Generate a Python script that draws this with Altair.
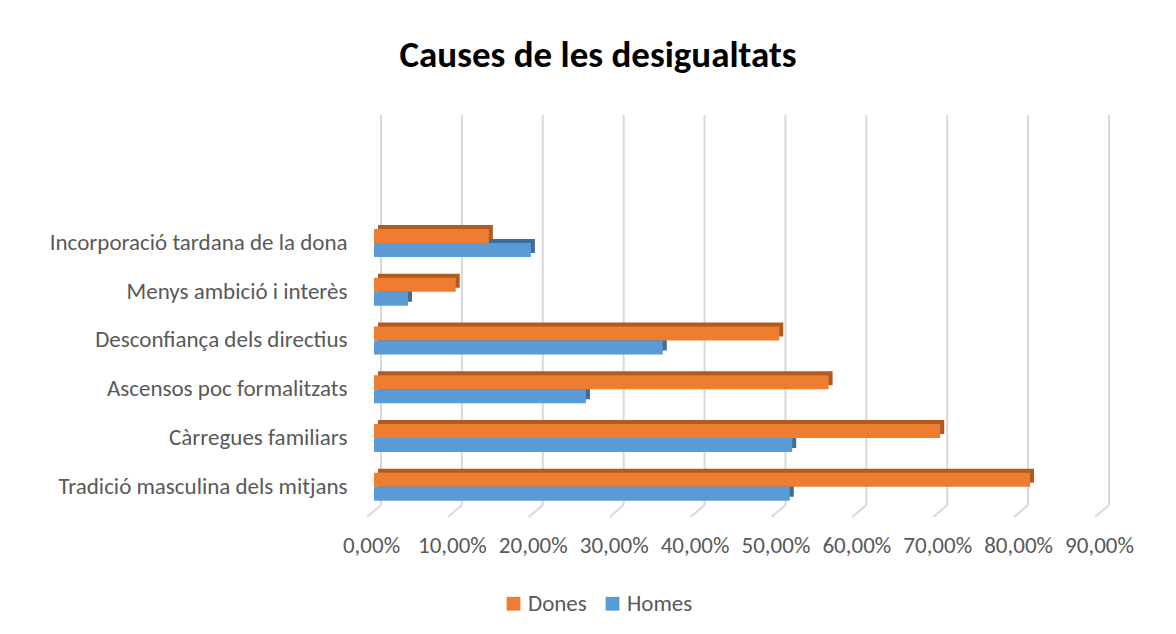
import altair as alt
import pandas as pd

categories = [
    "Incorporació tardana de la dona",
    "Menys ambició i interès",
    "Desconfiança dels directius",
    "Ascensos poc formalitzats",
    "Càrregues familiars",
    "Tradició masculina dels mitjans",
]
dones = [14.2, 10.1, 50.1, 56.2, 70.0, 81.1]
homes = [19.4, 4.2, 35.7, 26.2, 51.7, 51.4]
series = ["Dones", "Homes"]
colors = ["#ED7D31", "#5B9BD5"]
side_colors = ["#B35A1F", "#3E6D99"]
tick_values = [0, 10, 20, 30, 40, 50, 60, 70, 80, 90]
blank_rows = [" ", "  "]

rows = []
for c, d, h in zip(categories, dones, homes):
    rows.append({"cat": c, "serie": "Dones", "val": d})
    rows.append({"cat": c, "serie": "Homes", "val": h})
df = pd.DataFrame(rows)
grid_df = pd.DataFrame({"t": tick_values})

FONT = "Carlito, Lato, sans-serif"
W, H = 728, 390
BAR_H = 14
DEPTH = 4

x_scale = alt.Scale(domain=[0, 90], nice=False, zero=True)
y_scale = alt.Scale(domain=blank_rows + categories, paddingInner=0, paddingOuter=0)

x_axis = alt.Axis(
    values=tick_values, ticks=False, grid=False, domain=False,
    labelExpr="replace(format(datum.value, '.2f'), '.', ',') + '%'",
    labelFontSize=23, labelColor="#595959", labelFont=FONT,
    labelPadding=23, labelOffset=-3, title=None,
    labelFlush=False, labelOverlap=False, labelBound=False,
)
y_axis = alt.Axis(
    ticks=False, grid=False, domain=False, labelFontSize=23,
    labelColor="#595959", labelFont=FONT, labelPadding=27, title=None,
    labelLimit=400,
)

grid = alt.Chart(grid_df).mark_rule(
    color="#d9d9d9", strokeWidth=2, xOffset=7
).encode(
    x=alt.X("t:Q", scale=x_scale, axis=x_axis),
    y=alt.value(-6),
    y2=alt.value(H - 6),
)
floor = alt.Chart(grid_df).mark_rule(
    color="#d9d9d9", strokeWidth=2, xOffset=-7, x2Offset=7
).encode(
    x=alt.X("t:Q", scale=x_scale),
    x2=alt.X2("t"),
    y=alt.value(H + 6),
    y2=alt.value(H - 6),
)

layers = [grid, floor]
for s, col, side, off in zip(series, colors, side_colors, [-BAR_H / 2, BAR_H / 2]):
    back = alt.Chart(df).transform_filter(alt.datum.serie == s).mark_bar(
        height=BAR_H, color=side, yOffset=off - DEPTH, xOffset=DEPTH, x2Offset=DEPTH
    ).encode(
        x=alt.X("val:Q", scale=x_scale),
        y=alt.Y("cat:N", scale=y_scale, axis=y_axis),
    )
    layers.append(back)

for s, off in zip(series, [-BAR_H / 2, BAR_H / 2]):
    front = alt.Chart(df).transform_filter(alt.datum.serie == s).mark_bar(
        height=BAR_H, yOffset=off
    ).encode(
        x=alt.X("val:Q", scale=x_scale),
        y=alt.Y("cat:N", scale=y_scale),
        color=alt.Color(
            "serie:N",
            scale=alt.Scale(domain=series, range=colors),
            legend=alt.Legend(
                orient="none", legendX=128, legendY=471, direction="horizontal",
                title=None, symbolType="square", symbolSize=190,
                symbolStrokeWidth=0, symbolOpacity=1,
                labelFontSize=23, labelColor="#595959", labelFont=FONT,
                columnPadding=14, labelOffset=3,
            ),
        ),
    )
    layers.append(front)

chart = alt.layer(*layers).properties(
    width=W,
    height=H,
    autosize=alt.AutoSizeParams(type="none"),
    padding={"left": 366, "top": 113, "right": 60, "bottom": 116},
    title=alt.TitleParams(
        "Causes de les desigualtats", anchor="middle", dx=-140, offset=39,
        fontSize=37, font=FONT, fontWeight="bold", color="#000000",
    ),
).configure_view(stroke=None)

chart.save("out.html", embed_options={"renderer": "svg", "actions": False})
